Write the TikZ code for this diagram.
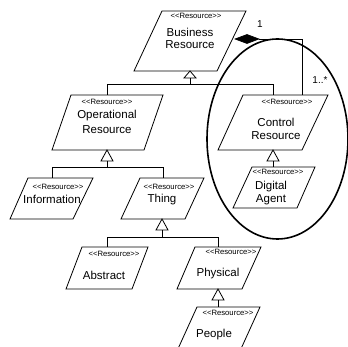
\documentclass[tikz,border=0pt]{standalone}
\usepackage{fontspec}
\setmainfont{Liberation Sans}
\newfontfamily\stfont{Liberation Sans}
\newcommand\pgram[6]{\draw[cls] (#1,#5) -- (#2,#5) -- (#4,#6) -- (#3,#6) -- cycle;}
\begin{document}
\begin{tikzpicture}[x=1pt,y=-1pt,
  cls/.style={draw=black, line width=0.8pt, fill=white},
  st/.style={font=\stfont\fontsize{7.7}{8}\selectfont, inner sep=0pt},
  nm/.style={font=\fontsize{11.5}{13.8}\selectfont, inner sep=0pt},
  gen/.style={draw=black, fill=white, line width=0.8pt},
  conn/.style={draw=black, line width=0.8pt},
  agg/.style={draw=black, fill=black, line width=0.6pt}]
\clip (0,0) rectangle (348,347);
% classes
\pgram{162}{246}{134}{217}{11}{71}
\pgram{71}{163}{52}{144}{95}{150}
\pgram{243}{328}{218}{302}{95}{150}
\pgram{28}{93}{10}{73}{178}{219}
\pgram{140}{204}{121}{185}{178}{219}
\pgram{252}{315}{233}{297}{167}{208}
\pgram{82}{148}{66}{132}{247}{289}
\pgram{195}{261}{177}{242}{247}{289}
\pgram{197}{260}{177}{240}{307}{351}
% texts
\node[st] (bst) at (196,16) {<<Resource>>};
\node[nm] (bn1) at (190,32.5) {Business};
\node[nm] (bn2) at (190,45) {Resource};
\node[st] (ost) at (107,102) {<<Resource>>};
\node[nm] (on1) at (107,116) {Operational};
\node[nm] (on2) at (107,130) {Resource};
\node[st] (cst) at (287,102) {<<Resource>>};
\node[nm] (cn1) at (276,122) {Control};
\node[nm] (cn2) at (276,136) {Resource};
\node[st] (ist) at (58,187) {<<Resource>>};
\node[nm] (in1) at (52,199) {Information};
\node[st] (tst) at (169,187) {<<Resource>>};
\node[nm] (tn1) at (162,200) {Thing};
\node[st] (dst) at (278,172) {<<Resource>>};
\node[nm] (dn1) at (271,187) {Digital};
\node[nm] (dn2) at (271,200) {Agent};
\node[st] (ast) at (114,254) {<<Resource>>};
\node[nm] (an1) at (104,275) {Abstract};
\node[st] (pst) at (231,252) {<<Resource>>};
\node[nm] (pn1) at (218,274) {Physical};
\node[st] (qst) at (228,313) {<<Resource>>};
\node[nm] (qn1) at (214,335) {People};
% connector end points
\coordinate (b-s) at (190,71);
\coordinate (b-g) at (190,78);
\coordinate (o-n) at (107,95);
\coordinate (c-n) at (273,95);
\coordinate (c-n2) at (302,95);
\coordinate (b-e) at (235,39);
\coordinate (b-a) at (259,39);
\coordinate (o-s) at (107,150);
\coordinate (o-g) at (107,161);
\coordinate (i-n) at (52,178);
\coordinate (t-n) at (163,178);
\coordinate (t-s) at (162,219);
\coordinate (t-g) at (162,230);
\coordinate (a-n) at (107,247);
\coordinate (p-n) at (218,247);
\coordinate (c-s) at (273,150);
\coordinate (c-g) at (273,161);
\coordinate (d-n) at (273,167);
\coordinate (p-s) at (218,289);
\coordinate (p-g) at (218,300);
\coordinate (q-n) at (218,307);
% generalizations
\draw[conn] (b-g) -- ++(0,6) -| (o-n);
\draw[conn] (b-g) -- ++(0,6) -| (c-n);
\draw[gen] (b-s) -- ++(-6,7) -- ++(12,0) -- cycle;
\draw[conn] (o-g) -- ++(0,6) -| (i-n);
\draw[conn] (o-g) -- ++(0,6) -| (t-n);
\draw[gen] (o-s) -- ++(-6,11) -- ++(12,0) -- cycle;
\draw[conn] (t-g) -- ++(0,7) -| (a-n);
\draw[conn] (t-g) -- ++(0,7) -| (p-n);
\draw[gen] (t-s) -- ++(-6,11) -- ++(12,0) -- cycle;
\draw[conn] (c-g) -- (d-n);
\draw[gen] (c-s) -- ++(-6,11) -- ++(12,0) -- cycle;
\draw[conn] (p-g) -- (q-n);
\draw[gen] (p-s) -- ++(-6,11) -- ++(12,0) -- cycle;
% aggregation
\draw[conn] (b-a) -| (c-n2);
\draw[agg] (b-e) -- ++(12,-4.5) -- (b-a) -- ++(-12,4.5) -- cycle;
\node[font=\fontsize{10}{12}\selectfont, inner sep=0pt] (m1) at (260,24) {1};
\node[font=\fontsize{10}{12}\selectfont, inner sep=0pt] (m2) at (320,80) {1..*};
% grouping ellipse
\draw[line width=1.6pt] (277.5,139) ellipse [x radius=70.5, y radius=100];
\end{tikzpicture}
\end{document}
